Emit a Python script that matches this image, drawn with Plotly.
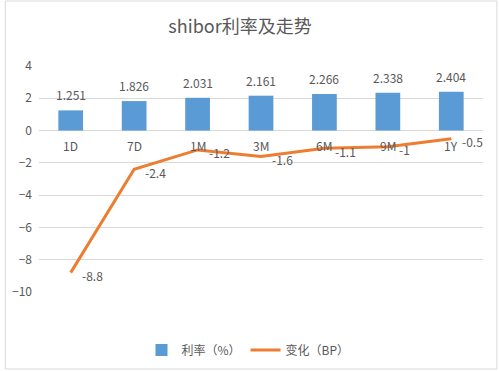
import plotly.graph_objects as go

categories = ["1D", "7D", "1M", "3M", "6M", "9M", "1Y"]
rate = [1.251, 1.826, 2.031, 2.161, 2.266, 2.338, 2.404]
change = [-8.8, -2.4, -1.2, -1.6, -1.1, -1, -0.5]
yticks = [4, 2, 0, -2, -4, -6, -8, -10]

FONT = "Noto Sans CJK SC, Microsoft YaHei, sans-serif"
GREY = "#595959"

W, H = 499, 371
L, R, T, B = 35, 16, 66, 79
pw, ph = W - L - R, H - T - B

fig = go.Figure()
fig.add_trace(go.Bar(
    x=categories, y=rate, name="利率（%）",
    marker=dict(color="#5B9BD5", line=dict(width=0)),
    cliponaxis=False,
))
fig.add_trace(go.Scatter(
    x=categories, y=change, name="变化（BP）",
    mode="lines", line=dict(color="#ED7D31", width=3),
    cliponaxis=False,
))

lab_font = dict(color=GREY, size=12, family=FONT)
for c, v in zip(categories, rate):
    fig.add_annotation(x=c, y=v, xref="x", yref="y", text=f"{v:.3f}", showarrow=False,
                       yanchor="bottom", yshift=5, font=lab_font)
for c, v in zip(categories, change):
    fig.add_annotation(x=c, y=v, xref="x", yref="y", text=f"{v:g}", showarrow=False,
                       xanchor="left", yanchor="middle", xshift=9, yshift=-3, font=lab_font)
for c in categories:
    fig.add_annotation(x=c, y=0, xref="x", yref="y", text=c, showarrow=False,
                       yanchor="top", yshift=-4, font=lab_font)

def px2paper_x(p):
    return (p - L) / pw

def px2paper_y(p):
    return (H - B - p) / ph

fig.add_shape(type="rect", xref="paper", yref="paper",
              x0=px2paper_x(1), x1=px2paper_x(W - 2),
              y0=px2paper_y(H - 2), y1=px2paper_y(1),
              line=dict(color="#D9D9D9", width=1), fillcolor="rgba(0,0,0,0)", layer="below")

fig.update_layout(
    width=W, height=H,
    margin=dict(l=L, r=R, t=T, b=B),
    paper_bgcolor="white", plot_bgcolor="white",
    title=dict(text="shibor利率及走势", xref="container", x=240 / W, xanchor="center",
               yref="container", y=1 - 27 / H, yanchor="middle",
               font=dict(size=18, color=GREY, family=FONT)),
    bargap=0.61,
    showlegend=True,
    legend=dict(orientation="h", xref="container", x=248 / W, xanchor="center",
                yref="container", y=1 - 350 / H, yanchor="middle",
                font=dict(size=12, color=GREY, family=FONT), itemwidth=30, traceorder="normal"),
    xaxis=dict(showticklabels=False, showgrid=False, zeroline=False, showline=False,
               range=[-0.5, len(categories) - 0.5]),
    yaxis=dict(range=[-10, 4], tickvals=yticks, showgrid=True, gridcolor="#D9D9D9", gridwidth=1,
               zeroline=True, zerolinecolor="#D9D9D9", zerolinewidth=1, showline=False,
               tickfont=dict(size=12, color=GREY, family=FONT), ticks="", ticklabelstandoff=6),
)

fig.write_html("out.html", config={"displayModeBar": False},
               post_script="document.body.style.margin='0';document.body.style.overflow='hidden';")
